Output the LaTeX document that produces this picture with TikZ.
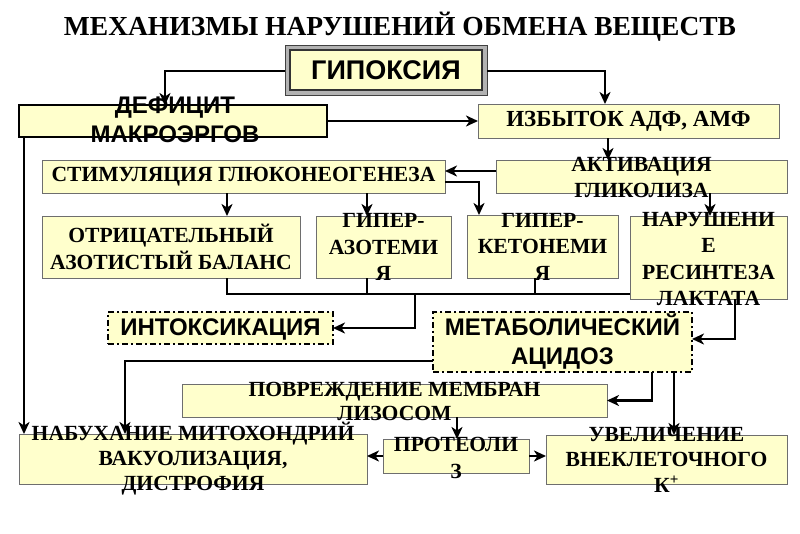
\documentclass[tikz,border=0pt]{standalone}
\usepackage{fontspec}
\setmainfont{Liberation Serif}
\newfontfamily\sansfont{Liberation Sans}
\usetikzlibrary{arrows.meta}
\definecolor{byel}{HTML}{FFFFCC}
\definecolor{bord}{HTML}{6E6E6E}
\tikzset{
  ybox/.style={draw=bord, line width=1pt, fill=byel, inner sep=0pt, outer sep=0pt, anchor=north west},
  dbox/.style={draw=black, line width=2pt, dash pattern=on 6pt off 3pt on 2pt off 3pt, fill=byel, inner sep=0pt, outer sep=0pt, anchor=north west},
  seriftxt/.style={font=\fontsize{21.6}{26.5}\selectfont\bfseries, align=center, inner sep=0pt},
  sanstxt/.style={font=\sansfont\fontsize{24}{29}\selectfont\bfseries, align=center, inner sep=0pt},
  conn/.style={line width=2.9pt, -{Stealth[length=12pt,width=11pt,inset=3.5pt]}},
  plainline/.style={line width=2.9pt}
}
\begin{document}
\begin{tikzpicture}[x=1pt,y=-1pt]
\fill[white] (0,0) rectangle (800,533);
\useasboundingbox (0,0) rectangle (800,533);

% title
\node[font=\fontsize{27.5}{30}\selectfont\bfseries, anchor=base, inner sep=0pt] (title) at (400,35) {МЕХАНИЗМЫ НАРУШЕНИЙ ОБМЕНА ВЕЩЕСТВ};

% boxes
\node[draw=black!75, line width=1pt, fill=gray!60, inner sep=0pt, outer sep=0pt, anchor=north west, minimum width=202pt, minimum height=50pt] (hypo) at (285,45) {};
\node[draw=black!80, line width=1.2pt, fill=byel, inner sep=0pt, outer sep=0pt, anchor=north west, minimum width=192pt, minimum height=40pt] (hypi) at (290,50) {};
\node[draw=black, line width=2.6pt, fill=byel, inner sep=0pt, outer sep=0pt, anchor=north west, minimum width=308pt, minimum height=32pt] (def) at (19,105) {};
\node[ybox, minimum width=301pt, minimum height=34pt] (izb) at (478,104) {};
\node[ybox, minimum width=403pt, minimum height=33pt] (stim) at (42,160) {};
\node[ybox, minimum width=291pt, minimum height=33pt] (akt) at (496,160) {};
\node[ybox, minimum width=258pt, minimum height=62pt] (otr) at (42,216) {};
\node[ybox, minimum width=135pt, minimum height=62pt] (azo) at (316,216) {};
\node[ybox, minimum width=151pt, minimum height=63pt] (ket) at (467,215) {};
\node[ybox, minimum width=157pt, minimum height=83pt] (nar) at (630,216) {};
\node[dbox, minimum width=225pt, minimum height=32pt] (intox) at (108,312) {};
\node[dbox, minimum width=259pt, minimum height=60pt] (met) at (433,312) {};
\node[ybox, minimum width=425pt, minimum height=33pt] (pov) at (182,384) {};
\node[ybox, minimum width=348pt, minimum height=50pt] (nab) at (19,434) {};
\node[ybox, minimum width=146pt, minimum height=34pt] (prot) at (383,439) {};
\node[ybox, minimum width=241pt, minimum height=49pt] (uvel) at (546,435) {};

% texts
\node[sanstxt, font=\sansfont\fontsize{27}{30}\selectfont\bfseries] (thypo) at (hypi.center) {ГИПОКСИЯ};
\node[sanstxt] (tdef) at (175,120) {ДЕФИЦИТ\\МАКРОЭРГОВ};
\node[seriftxt, font=\fontsize{23}{26}\selectfont\bfseries] (tizb) at (izb.center) {ИЗБЫТОК АДФ, АМФ};
\node[seriftxt] (tstim) at (stim.center) {СТИМУЛЯЦИЯ ГЛЮКОНЕОГЕНЕЗА};
\node[seriftxt] (takt) at ([yshift=-1pt]akt.center) {АКТИВАЦИЯ\\ГЛИКОЛИЗА};
\node[seriftxt] (totr) at (otr.center) {ОТРИЦАТЕЛЬНЫЙ\\АЗОТИСТЫЙ БАЛАНС};
\node[seriftxt] (tazo) at (azo.center) {ГИПЕР-\\АЗОТЕМИ\\Я};
\node[seriftxt] (tket) at (ket.center) {ГИПЕР-\\КЕТОНЕМИ\\Я};
\node[seriftxt] (tnar) at ([yshift=-1.5pt]nar.center) {НАРУШЕНИ\\Е\\РЕСИНТЕЗА\\ЛАКТАТА};
\node[sanstxt] (tintox) at ([yshift=-1.5pt]intox.center) {ИНТОКСИКАЦИЯ};
\node[sanstxt] (tmet) at (met.center) {МЕТАБОЛИЧЕСКИЙ\\АЦИДОЗ};
\node[seriftxt, font=\fontsize{21.6}{23.5}\selectfont\bfseries] (tpov) at ([yshift=-1pt]pov.center) {ПОВРЕЖДЕНИЕ МЕМБРАН\\ЛИЗОСОМ};
\node[seriftxt, font=\fontsize{21.6}{25}\selectfont\bfseries] (tnab) at (nab.center) {НАБУХАНИЕ МИТОХОНДРИЙ\\ВАКУОЛИЗАЦИЯ,\\ДИСТРОФИЯ};
\node[seriftxt] (tprot) at ([yshift=-2pt]prot.center) {ПРОТЕОЛИ\\З};
\node[seriftxt, font=\fontsize{21.6}{25.5}\selectfont\bfseries] (tuvel) at (uvel.center) {УВЕЛИЧЕНИЕ\\ВНЕКЛЕТОЧНОГО\\К\textsuperscript{+}};

% helper coordinates (columns and rows)
\coordinate (c24) at (24,0);
\coordinate (c125) at (125,0);
\coordinate (c165) at (165,0);
\coordinate (c227) at (227,0);
\coordinate (c367) at (367,0);
\coordinate (c415) at (415,0);
\coordinate (c457) at (457,0);
\coordinate (c479) at (479,0);
\coordinate (c535) at (535,0);
\coordinate (c605) at (605,0);
\coordinate (c608) at (608,0);
\coordinate (c652) at (652,0);
\coordinate (c674) at (674,0);
\coordinate (c710) at (710,0);
\coordinate (c735) at (735,0);
\coordinate (r71) at (0,71);
\coordinate (r171) at (0,171);
\coordinate (r182) at (0,182);
\coordinate (r294) at (0,294);
\coordinate (r339) at (0,339);
\coordinate (r361) at (0,361);

% connectors
\draw[conn] (hypo.west |- r71) -| (def.north -| c165);
\draw[conn] (hypo.east |- r71) -| (izb.north -| c605);
\draw[conn] (def.east) -- (izb.west |- def.east);
\draw[conn] (def.south -| c24) -- (nab.north -| c24);
\draw[conn] (izb.south -| c608) -- (akt.north -| c608);
\draw[conn] (akt.west |- r171) -- (stim.east |- r171);
\draw[conn] (stim.east |- r182) -| (ket.north -| c479);
\draw[conn] (stim.south -| c227) -- (otr.north -| c227);
\draw[conn] (stim.south -| c367) -- (azo.north -| c367);
\draw[conn] (akt.south -| c710) -- (nar.north -| c710);
\draw[plainline] (otr.south -| c227) |- (nar.west |- r294);
\draw[plainline] (azo.south -| c367) -- (c367 |- r294);
\draw[plainline] (ket.south -| c535) -- (c535 |- r294);
\draw[conn] (c415 |- r294) |- (intox.east);
\draw[conn] (nar.south -| c735) |- (met.east |- r339);
\draw[conn] (met.west |- r361) -| (nab.north -| c125);
\draw[conn] (met.south -| c652) |- (pov.east);
\draw[conn] (met.south -| c674) -- (uvel.north -| c674);
\draw[conn] (pov.south -| c457) -- (prot.north -| c457);
\draw[conn] (prot.west) -- (nab.east |- prot.west);
\draw[conn] (prot.east) -- (uvel.west |- prot.east);
\end{tikzpicture}
\end{document}
